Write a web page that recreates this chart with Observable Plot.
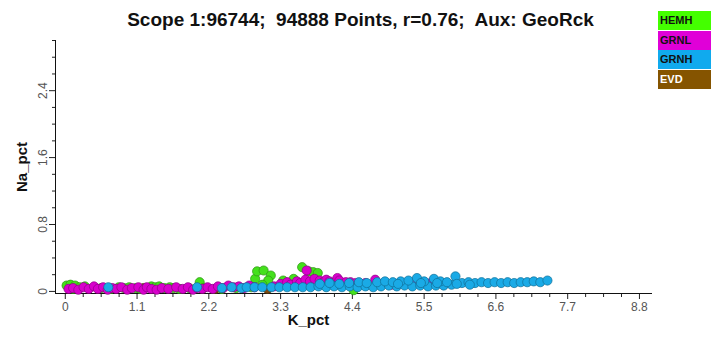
<!DOCTYPE html>
<html><head><meta charset="utf-8">
<script src="https://cdn.jsdelivr.net/npm/d3@7"></script>
<script src="https://cdn.jsdelivr.net/npm/@observablehq/plot@0.6"></script>
<style>
body{margin:0;background:#fff;font-family:"Liberation Sans",Arial,sans-serif;overflow:hidden;}
#wrap{position:relative;width:711px;height:346px;}
#title{position:absolute;left:5px;top:9px;width:711px;text-align:center;font-weight:bold;font-size:19px;color:#111;white-space:pre;}
.leg{position:absolute;left:658px;width:53px;height:19px;font-size:11px;font-weight:bold;line-height:19px;padding-left:2px;box-sizing:border-box;color:#111;}
#chart{position:absolute;left:0;top:0;}
</style></head><body>
<div id="wrap">
<div id="chart"></div>
<div id="title">Scope 1:96744;  94888 Points, r=0.76;  Aux: GeoRck</div>
<div id="legend"></div>
</div>
<script>
const legendNames = ["HEMH", "GRNL", "GRNH", "EVD"];
const legendColors = ["#44ff00", "#e000d8", "#10aaee", "#855400"];
const dotColors = ["#44e01c", "#d800cc", "#1aaae6", "#7a4a10"];
const xTicks = [0, 1.1, 2.2, 3.3, 4.4, 5.5, 6.6, 7.7, 8.8];
const xMinor = [0.275, 0.55, 0.825, 1.375, 1.65, 1.925, 2.475, 2.75, 3.025, 3.575, 3.85, 4.125, 4.675, 4.95, 5.225, 5.775, 6.05, 6.325, 6.875, 7.15, 7.425, 7.975, 8.25, 8.525];
const yTicks = [0, 0.8, 1.6, 2.4];
const yMinor = [0.2, 0.4, 0.6, 1.0, 1.2, 1.4, 1.8, 2.0, 2.2, 2.6, 2.8, 3.0];

const evd = [[1.2,0.04],[2.3,0.03],[3.1,0.03]];
const hemh = [[4.42,0.015],[0.02,0.07],[0.08,0.08],[0.15,0.07],[0.22,0.05],[0.3,0.06],[0.12,0.03],[0.55,0.04],[0.7,0.03],[0.82,0.05],[0.9,0.04],[0.98,0.05],[1.08,0.04],[1.15,0.03],[1.32,0.06],[1.38,0.05],[1.44,0.06],[1.52,0.04],[1.6,0.05],[1.66,0.04],[1.75,0.03],[1.9,0.04],[2.06,0.11],[2.12,0.04],[2.4,0.03],[2.62,0.04],[2.85,0.05],
  [2.91,0.15],[2.94,0.24],[3.04,0.25],[3.15,0.19],[3.11,0.13],[3.02,0.08],[3.34,0.13],[3.5,0.15],[3.63,0.29],[3.73,0.24],[3.8,0.23],[3.87,0.22],[4.0,0.06]];
const grnl = [[0.05,0.03],[0.12,0.04],[0.2,0.02],[0.28,0.05],[0.36,0.03],[0.44,0.06],[0.5,0.03],[0.58,0.05],[0.65,0.02],[0.72,0.04],[0.78,0.03],[0.86,0.05],[0.95,0.02],[1.02,0.04],[1.12,0.05],[1.2,0.02],[1.25,0.05],[1.32,0.03],[1.4,0.02],[1.48,0.04],[1.58,0.03],[1.7,0.05],[1.8,0.03],[1.88,0.05],[1.96,0.02],[2.02,0.04],[2.1,0.03],[2.18,0.05],[2.26,0.03],[2.34,0.06],[2.42,0.04],[2.5,0.07],[2.58,0.05],[2.66,0.06],[2.74,0.04],[2.82,0.07],[2.9,0.05],
  [3.2,0.06],[3.3,0.09],[3.4,0.11],[3.45,0.08],[3.55,0.12],[3.6,0.1],[3.7,0.25],[3.68,0.14],[3.75,0.12],[3.82,0.15],[3.9,0.13],[3.95,0.11],[4.0,0.14],[4.05,0.12],[4.1,0.1],[4.17,0.16],[4.2,0.13],[4.3,0.11],[4.37,0.11],[4.45,0.1],[4.5,0.09],[4.6,0.1],[4.75,0.14],[4.85,0.09],[5.0,0.08],[5.3,0.09],[5.6,0.1],[5.8,0.08]];
const grnh = [[0.66,0.05],[2.02,0.05],[2.4,0.04],[2.55,0.05],[2.7,0.04],
  [2.78,0.05],[2.9,0.05],[3.02,0.05],[3.16,0.05],[3.28,0.05],[3.4,0.05],[3.52,0.05],[3.64,0.05],[3.76,0.05],[3.88,0.06],[4.0,0.05],[4.12,0.06],[4.24,0.05],[4.36,0.06],[4.48,0.05],[4.6,0.06],[4.72,0.05],[4.84,0.06],[4.96,0.07],[5.08,0.06],[5.2,0.07],[5.32,0.06],[5.44,0.07],[5.56,0.06],[5.68,0.07],[5.8,0.07],[5.92,0.08],
  [3.9,0.09],[4.05,0.1],[4.2,0.09],[4.35,0.1],[4.5,0.11],[4.62,0.1],[4.78,0.11],[4.9,0.12],[5.02,0.11],[5.14,0.12],[5.26,0.13],[5.39,0.16],[5.5,0.12],[5.65,0.15],[5.75,0.12],[5.85,0.11],[5.98,0.18],[6.08,0.1],[6.18,0.11],[6.28,0.1],[6.38,0.11],[6.48,0.1],[6.58,0.11],[6.68,0.1],[6.78,0.11],[6.88,0.1],[6.98,0.11],[7.08,0.11],[7.18,0.12],[7.28,0.11],[7.39,0.13],
  [5.1,0.09],[5.45,0.1],[5.7,0.1],[6.0,0.09],[6.2,0.08]];

const series = [evd, hemh, grnl, grnh];
const seriesColor = [dotColors[3], dotColors[0], dotColors[1], dotColors[2]];

const leg = document.getElementById("legend");
legendNames.forEach((n, i) => {
  const d = document.createElement("div");
  d.className = "leg";
  d.style.top = (11 + i * 19.7) + "px";
  d.style.background = legendColors[i];
  if (n === "EVD") d.style.color = "#fff";
  d.textContent = n;
  leg.appendChild(d);
});

const dotMarks = series.map((s, i) => Plot.dot(s, {
  x: d => d[0], y: d => d[1], r: 4.6,
  fill: seriesColor[i],
  stroke: d3.color(seriesColor[i]).darker(1.2).formatHex(),
  strokeWidth: 0.7
}));

const chart = Plot.plot({
  width: 711, height: 346,
  marginLeft: 55, marginRight: 59, marginTop: 40, marginBottom: 53,
  x: {domain: [-0.15, 9.0]},
  y: {domain: [-0.025, 3.0]},
  style: {fontFamily: '"Liberation Sans", Arial, sans-serif', fontSize: "12px", color: "#333", background: "transparent"},
  marks: [
    Plot.axisX({ticks: xMinor, tickSize: 4, tickFormat: () => "", label: null, stroke: "#222"}),
    Plot.axisX({ticks: xTicks, tickSize: 6, tickPadding: 3, tickFormat: d => String(d), label: null, stroke: "#222", fill: "#555", fontSize: 12}),
    Plot.axisY({ticks: yMinor, tickSize: 3, tickFormat: () => "", label: null, stroke: "#222"}),
    Plot.axisY({ticks: yTicks, tickSize: 6, tickFormat: () => "", label: null, stroke: "#222"}),
    Plot.text(yTicks, {y: d => d, text: d => String(d), frameAnchor: "left", dx: -12, rotate: -90, textAnchor: "middle", fill: "#555", fontSize: 12}),
    Plot.ruleY([-0.025], {stroke: "#111"}),
    Plot.ruleX([-0.15], {stroke: "#111"}),
    ...dotMarks,
    Plot.text(["K_pct"], {frameAnchor: "bottom-left", dx: 253, dy: 31, text: d => d, textAnchor: "middle", fontWeight: "bold", fontSize: 15, fill: "#111"}),
    Plot.text(["Na_pct"], {frameAnchor: "left", dx: -33, rotate: -90, text: d => d, fontWeight: "bold", fontSize: 15, fill: "#111", textAnchor: "middle"})
  ]
});
document.getElementById("chart").appendChild(chart);
</script>
</body></html>
